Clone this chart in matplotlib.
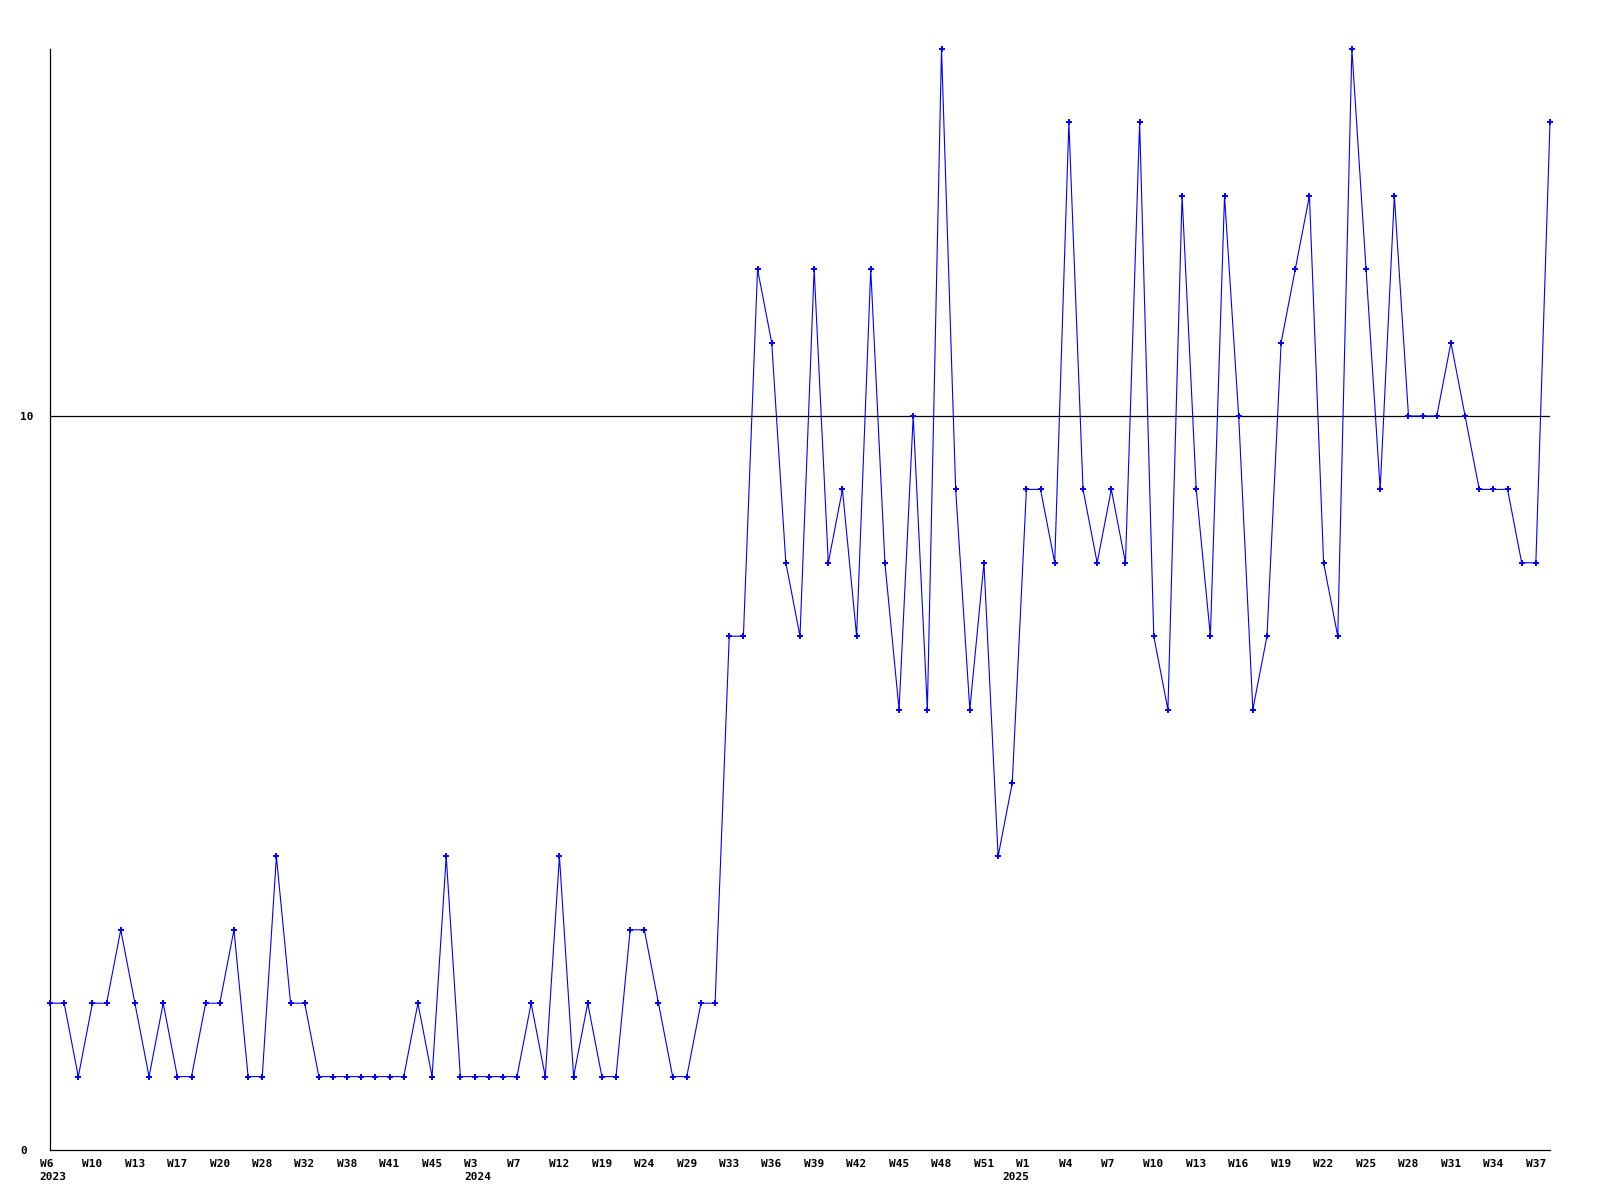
import matplotlib
matplotlib.use("Agg")
import matplotlib.pyplot as plt
import numpy as np

# ── Data ──────────────────────────────────────────────────────
# one value per recorded week, in order
VALUES = [2, 2, 1, 2, 2, 3, 2, 1, 2, 1, 1, 2, 2, 3, 1, 1, 4, 2, 2, 1,
          1, 1, 1, 1, 1, 1, 2, 1, 4, 1, 1, 1, 1, 1, 2, 1, 4, 1, 2, 1,
          1, 3, 3, 2, 1, 1, 2, 2, 7, 7, 12, 11, 8, 7, 12, 8, 9, 7, 12, 8,
          6, 10, 6, 15, 9, 6, 8, 4, 5, 9, 9, 8, 14, 9, 8, 9, 8, 14, 7, 6,
          13, 9, 7, 13, 10, 6, 7, 11, 12, 13, 8, 7, 15, 12, 9, 13, 10, 10, 10, 11,
          10, 9, 9, 9, 8, 8, 14]

# every third point carries a week label
WEEK_LABELS = ["W6", "W10", "W13", "W17", "W20", "W28", "W32", "W38", "W41", "W45",
               "W3", "W7", "W12", "W19", "W24", "W29", "W33", "W36", "W39", "W42",
               "W45", "W48", "W51",
               "W1", "W4", "W7", "W10", "W13", "W16", "W19", "W22", "W25", "W28",
               "W31", "W34", "W37"]
LABEL_STEP = 3
YEARS = ["2023", "2024", "2025"]
YEAR_AT = [0, 10, 23]          # index into WEEK_LABELS

REF_LINE = 10
Y_TICKS = [0, 10]
Y_MAX = 15

FONT = dict(family="DejaVu Sans Mono", fontweight="bold", fontsize=8)

# ── Plot ──────────────────────────────────────────────────────
fig = plt.figure(figsize=(16, 12), dpi=100)
ax = fig.add_axes([50 / 1600, 50 / 1200, 1500 / 1600, 1101 / 1200])

x = np.arange(len(VALUES))
ax.plot(x, VALUES, color="#0000ff", linewidth=0.8, marker="+",
        markersize=4, markeredgewidth=1.4, clip_on=False, zorder=3)
ax.axhline(REF_LINE, color="black", linewidth=0.9, zorder=2)

ax.set_xlim(0, len(VALUES) - 1)
ax.set_ylim(0, Y_MAX)

for side in ["top", "right"]:
    ax.spines[side].set_visible(False)
for side in ["left", "bottom"]:
    ax.spines[side].set_linewidth(0.9)
    ax.spines[side].set_color("black")

ax.set_xticks([])
ax.set_yticks(Y_TICKS)
ax.set_yticklabels([str(v) for v in Y_TICKS], ha="left", **FONT)
ax.tick_params(axis="y", length=0, pad=21.6)

# week labels, left edge a little before the point
for i, lab in enumerate(WEEK_LABELS):
    ax.annotate(lab, xy=(i * LABEL_STEP, 0), xycoords=("data", "axes fraction"),
                xytext=(-7.4, -6.2), textcoords="offset points",
                ha="left", va="top", **FONT)

# year labels under the first week of each year
for yr, k, dx in zip(YEARS, YEAR_AT, [-7.4, -7.4, -17.5]):
    ax.annotate(yr, xy=(k * LABEL_STEP, 0), xycoords=("data", "axes fraction"),
                xytext=(dx, -15.6), textcoords="offset points",
                ha="left", va="top", **FONT)

plt.savefig("out.png", dpi=100)
plt.close()
